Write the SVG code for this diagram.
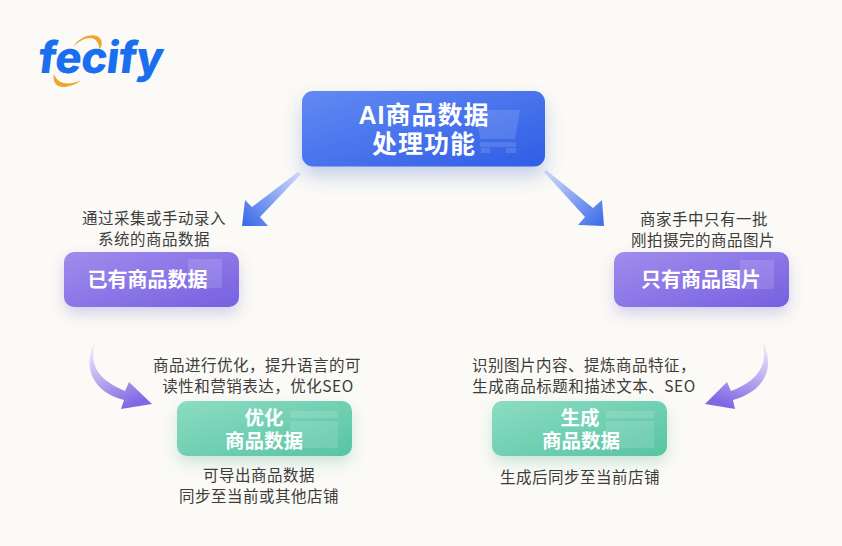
<svg xmlns="http://www.w3.org/2000/svg" width="842" height="546" viewBox="0 0 842 546">
<style>
.d{font-family:"Noto Sans CJK SC","Liberation Sans",sans-serif;font-size:15.5px;letter-spacing:.5px;fill:#3c3c3c;text-anchor:middle}
.t{font-family:"Liberation Sans","Noto Sans CJK SC",sans-serif;font-weight:700;fill:#fff;text-anchor:middle}
.o{fill:#fff;opacity:.13}
</style>
<defs>
<linearGradient id="b" x1="0" y1="0" x2="1" y2="1"><stop offset="0" stop-color="#6289f3"/><stop offset="1" stop-color="#2f5ee6"/></linearGradient>
<linearGradient id="p" x1="0" y1="0" x2="1" y2="1"><stop offset="0" stop-color="#a08ded"/><stop offset="1" stop-color="#7660e0"/></linearGradient>
<linearGradient id="g" x1="0" y1="0" x2="1" y2="1"><stop offset="0" stop-color="#8cdcc3"/><stop offset="1" stop-color="#57c4a2"/></linearGradient>
<linearGradient id="al" x1="300" y1="172" x2="245" y2="222" gradientUnits="userSpaceOnUse"><stop offset="0" stop-color="#d3ddf9"/><stop offset="1" stop-color="#3f6eea"/></linearGradient>
<linearGradient id="ar" x1="545" y1="170" x2="602" y2="224" gradientUnits="userSpaceOnUse"><stop offset="0" stop-color="#d3ddf9"/><stop offset="1" stop-color="#3f6eea"/></linearGradient>
<linearGradient id="cl" x1="95" y1="342" x2="125" y2="408" gradientUnits="userSpaceOnUse"><stop offset="0" stop-color="#f3f0fc"/><stop offset="1" stop-color="#7f68e4"/></linearGradient>
<linearGradient id="cr" x1="762" y1="340" x2="732" y2="408" gradientUnits="userSpaceOnUse"><stop offset="0" stop-color="#f3f0fc"/><stop offset="1" stop-color="#7f68e4"/></linearGradient>
<filter id="sb" x="-20%" y="-30%" width="140%" height="180%"><feDropShadow dx="0" dy="10" stdDeviation="9" flood-color="#3a5fc8" flood-opacity=".28"/></filter>
<filter id="sp" x="-20%" y="-30%" width="140%" height="180%"><feDropShadow dx="0" dy="7" stdDeviation="7" flood-color="#6a55c8" flood-opacity=".25"/></filter>
<filter id="sg" x="-20%" y="-30%" width="140%" height="180%"><feDropShadow dx="0" dy="7" stdDeviation="7" flood-color="#45a888" flood-opacity=".25"/></filter>
</defs>
<rect width="842" height="546" fill="#fbfaf6"/>
<g id="logo">
<path d="M73 47C78 38 90 33 97 36C103 39 103 45 99 50C100 44 96 38 90 38C84 38 78 42 73 47Z" fill="#f0a52e"/>
<path d="M54 74C52 82 57 88 65 87C71 86 77 84 81 80C75 83 69 84 64 83C59 82 56 79 54 74Z" fill="#f0a52e"/>
<text transform="translate(37,73) skewX(-7)" font-family="Inter,'Liberation Sans',sans-serif" font-weight="800" font-size="44" letter-spacing="-.5" fill="#1a6ff0">fecify</text>
</g>
<g id="connectors">
<path d="M298 172L252 207L245 200L242 226L268 226L260 217L301 174Z" fill="url(#al)"/>
<path d="M546 170L593 208L602 200L604 226L578 225L585 217L544 172Z" fill="url(#ar)"/>
<path d="M95 342C90 362 94 378 125 391L129 382L152 404L121 409L124 400C92 392 82 366 95 342Z" fill="url(#cl)"/>
<path d="M762 340C768 362 762 379 731 391L727 382L705 404L735 409L733 400C766 391 776 366 762 340Z" fill="url(#cr)"/>
</g>
<g id="node-top">
<rect x="302" y="91" width="243" height="75.500" rx="11" fill="url(#b)" filter="url(#sb)"/>
<path class="o" d="M476 110H520L515 139H480ZM480 142H516V147H480ZM481 148H490V153H481ZM506 148H516V153H506Z"/>
<text class="t" x="424" y="124" font-size="25" letter-spacing="1">AI商品数据</text>
<text class="t" x="424" y="153" font-size="25" letter-spacing="1">处理功能</text>
</g>
<g id="node-existing">
<text class="d" x="154" y="224">通过采集或手动录入</text>
<text class="d" x="154" y="245">系统的商品数据</text>
<rect x="64" y="252" width="175" height="55" rx="10" fill="url(#p)" filter="url(#sp)"/>
<rect class="o" x="188" y="259" width="34" height="29"/>
<text class="t" x="147.500" y="287" font-size="20">已有商品数据</text>
</g>
<g id="node-images">
<text class="d" x="704" y="225">商家手中只有一批</text>
<text class="d" x="703" y="246">刚拍摄完的商品图片</text>
<rect x="614" y="252" width="175" height="55" rx="10" fill="url(#p)" filter="url(#sp)"/>
<rect class="o" x="740" y="260" width="34" height="29"/>
<text class="t" x="701" y="287" font-size="20">只有商品图片</text>
</g>
<g id="node-optimize">
<text class="d" x="257" y="371">商品进行优化，提升语言的可</text>
<text class="d" x="258" y="392">读性和营销表达，优化SEO</text>
<rect x="177" y="401" width="175" height="55" rx="10" fill="url(#g)" filter="url(#sg)"/>
<rect class="o" x="290" y="411" width="48" height="7"/>
<rect class="o" x="290" y="421" width="48" height="27"/>
<text class="t" x="264" y="425" font-size="19.500">优化</text>
<text class="t" x="264" y="448" font-size="19.500">商品数据</text>
<text class="d" x="259" y="481">可导出商品数据</text>
<text class="d" x="259" y="502">同步至当前或其他店铺</text>
</g>
<g id="node-generate">
<text class="d" x="584" y="371">识别图片内容、提炼商品特征，</text>
<text class="d" x="584" y="392">生成商品标题和描述文本、SEO</text>
<rect x="492" y="401" width="175" height="55" rx="10" fill="url(#g)" filter="url(#sg)"/>
<rect class="o" x="606" y="411" width="48" height="7"/>
<rect class="o" x="606" y="421" width="48" height="27"/>
<text class="t" x="580" y="425" font-size="19.500">生成</text>
<text class="t" x="581" y="448" font-size="19.500">商品数据</text>
<text class="d" x="580" y="483">生成后同步至当前店铺</text>
</g>
</svg>
